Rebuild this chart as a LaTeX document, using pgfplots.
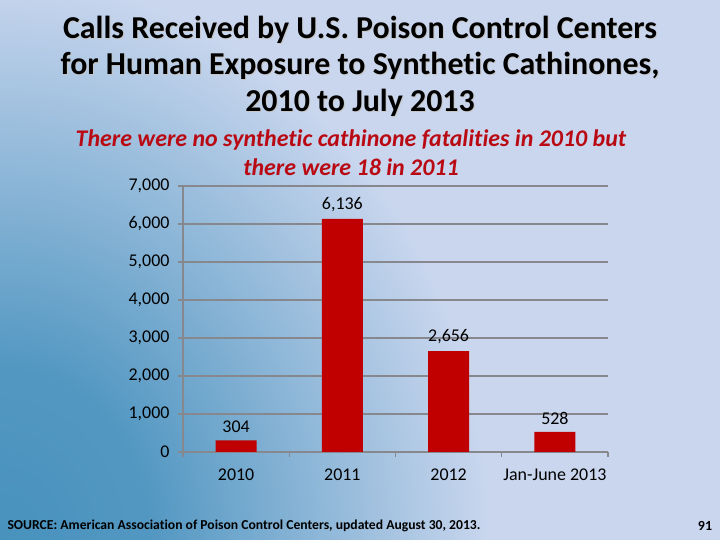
\documentclass[border=0pt]{standalone}
\usepackage{pgfplots}
\pgfplotsset{compat=1.18}
\usepackage{fontspec}
\setmainfont{Carlito}[Ligatures=NoCommon]
\definecolor{bgc}{RGB}{201,214,238}
\definecolor{bgdark}{RGB}{72,146,190}
\definecolor{barred}{RGB}{192,0,0}
\definecolor{subred}{RGB}{185,10,20}
\definecolor{gridc}{RGB}{134,136,142}
\pgfdeclareradialshading{bgshade}{\pgfpoint{0bp}{0bp}}{color(0bp)=(bgdark); color(4bp)=(bgdark!92!bgc); color(13bp)=(bgc); color(50bp)=(bgc)}
\begin{document}
\begin{tikzpicture}[x=1bp,y=1bp]
\fill[bgc] (0,0) rectangle (720,540);
\begin{scope}
\clip (0,0) rectangle (720,540);
\shade[shading=bgshade] (0,0) ellipse (940 and 1080);
\end{scope}
% title
\foreach \yy/\txt in {510/{Calls Received by U.S. Poison Control Centers},474/{for Human Exposure to Synthetic Cathinones,},437/{2010 to July 2013}}{
  \node[font=\bfseries\fontsize{32}{36}\selectfont, text=gray!45] at (361,\yy-1) {\txt};
  \node[font=\bfseries\fontsize{32}{36}\selectfont, text=black] at (360,\yy) {\txt};
}
\node[font=\bfseries\itshape\fontsize{24}{28}\selectfont, text=subred] at (351,400) {There were no synthetic cathinone fatalities in 2010 but};
\node[font=\bfseries\itshape\fontsize{24}{28}\selectfont, text=subred] at (351,373) {there were 18 in 2011};
\begin{axis}[
  at={(183bp,88bp)}, anchor=south west, scale only axis,
  width=425bp, height=266bp,
  ymin=0, ymax=7000, xmin=-0.5, xmax=3.5,
  ytick={0,1000,...,7000},
  xtick={-0.5,0.5,1.5,2.5,3.5}, xticklabels={},
  extra x ticks={0,1,2,3},
  extra x tick labels={2010,2011,2012,Jan-June 2013},
  extra x tick style={major tick length=0pt, grid=none},
  tick align=outside, major tick length=5bp,
  axis x line*=bottom, axis y line*=left,
  axis line style={draw=gridc, line width=1.4bp, -},
  tick style={draw=gridc, line width=1.4bp},
  ymajorgrids, grid style={draw=gridc, line width=1.4bp},
  /pgf/number format/1000 sep={,},
  /pgf/number format/assume math mode=true,
  tick label style={text=black},
  yticklabel style={font=\fontsize{18}{21}\selectfont, xshift=-5bp},
  xticklabel style={font=\fontsize{18}{21}\selectfont, yshift=-13bp},
  clip=false,
]
\addplot[ybar, bar width=41bp, fill=barred, draw=none,
  nodes near coords,
  nodes near coords style={font=\fontsize{18}{21}\selectfont, text=black, yshift=4bp}]
  coordinates {(0,304) (1,6136) (2,2656) (3,528)};
\end{axis}
\node[anchor=west, font=\bfseries\fontsize{13.7}{16}\selectfont] at (4,14) {SOURCE: American Association of Poison Control Centers, updated August 30, 2013.};
\node[font=\bfseries\fontsize{14}{16}\selectfont] at (705,14) {91};
\end{tikzpicture}
\end{document}
